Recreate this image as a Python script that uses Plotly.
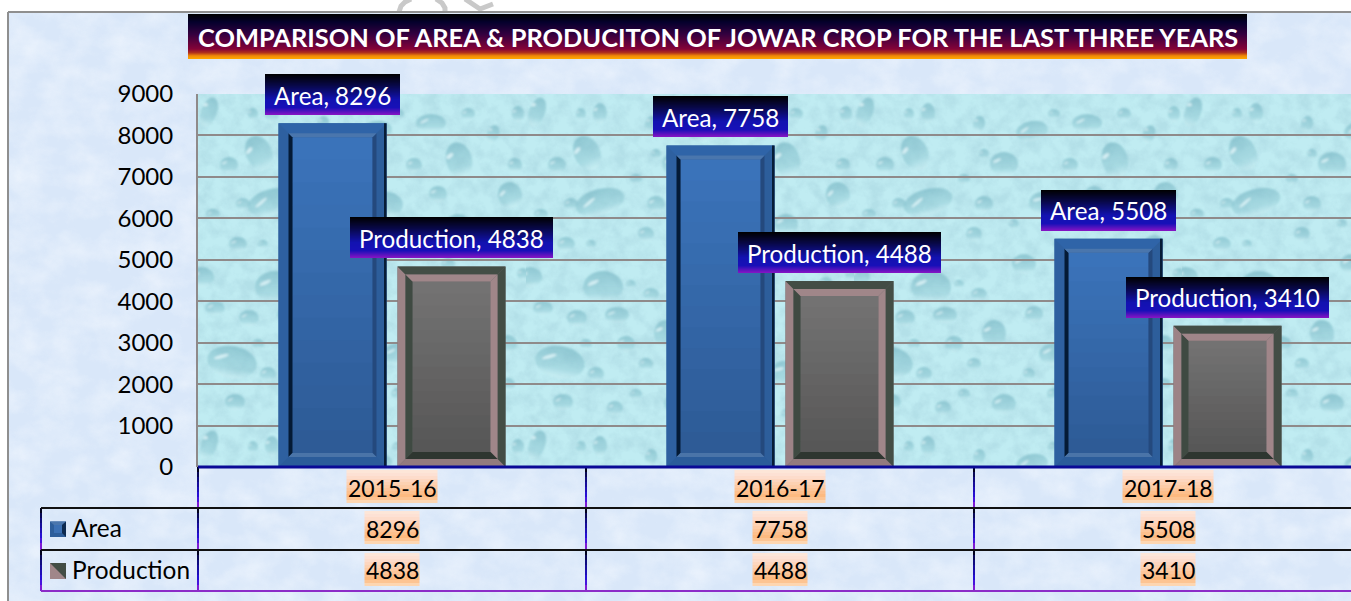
import base64
import plotly.graph_objects as go

# ---------- data ----------
categories = ["2015-16", "2016-17", "2017-18"]
area = [8296, 7758, 5508]
production = [4838, 4488, 3410]
y_ticks = [0, 1000, 2000, 3000, 4000, 5000, 6000, 7000, 8000, 9000]
title_text = "COMPARISON OF AREA & PRODUCITON OF JOWAR CROP FOR THE LAST THREE YEARS"

# ---------- geometry (pixels) ----------
W, H = 1351, 601
L, R_EDGE, T, B = 198, 1351, 94, 467
CAT_W = 388
Y_MAX = 9000
FONT = "Lato"
PW, PH = R_EDGE - L, B - T
BAR_W = 108 / CAT_W
OFF_A = -113.5 / CAT_W
OFF_P = 5.5 / CAT_W
DX = 1 / CAT_W
DY = Y_MAX / PH


def xp(px):
    return (px - L) / PW


def yp(py):
    return (B - py) / PH


def hex2rgb(h):
    return tuple(int(h[i:i + 2], 16) for i in (1, 3, 5))


def ramp(stops, t):
    for (t0, c0), (t1, c1) in zip(stops, stops[1:]):
        if t <= t1:
            f = 0 if t1 == t0 else (t - t0) / (t1 - t0)
            a, b = hex2rgb(c0), hex2rgb(c1)
            return "rgb(%d,%d,%d)" % tuple(round(a[i] + (b[i] - a[i]) * f) for i in range(3))
    return stops[-1][1]


shapes = []


def gradient_box(x0, y0, x1, y1, stops, step=1, layer="above"):
    """Vertical gradient band in whole page pixels."""
    y0, y1 = round(y0), round(y1)
    n = max(1, (y1 - y0) // step)
    for i in range(n):
        a = y0 + step * i
        b = y1 if i == n - 1 else a + step
        shapes.append(dict(type="rect", xref="paper", yref="paper", layer=layer,
                           x0=xp(x0), x1=xp(x1), y0=yp(a), y1=yp(b),
                           line=dict(width=0), fillcolor=ramp(stops, (i + .5) / n)))


def poly(points, color, layer="above"):
    d = "M " + " L ".join(f"{x:.5f},{y:.2f}" for x, y in points) + " Z"
    shapes.append(dict(type="path", xref="x", yref="y", layer=layer, path=d,
                       line=dict(width=0), fillcolor=color))


def bevel(x0, value, a, b, cols):
    """Four mitred strips between inset a and inset b (pixels)."""
    x1 = x0 + BAR_W
    ax, bx, ay, by = a * DX, b * DX, a * DY, b * DY
    lft, rgt, top, bot = cols
    poly([(x0 + ax, ay), (x0 + bx, by), (x0 + bx, value - by), (x0 + ax, value - ay)], lft)
    poly([(x1 - ax, ay), (x1 - bx, by), (x1 - bx, value - by), (x1 - ax, value - ay)], rgt)
    poly([(x0 + ax, value - ay), (x0 + bx, value - by), (x1 - bx, value - by), (x1 - ax, value - ay)], top)
    poly([(x0 + ax, ay), (x0 + bx, by), (x1 - bx, by), (x1 - ax, ay)], bot)


def bar_face(x0, value, inset, c_top, c_bot, n=14):
    x1 = x0 + BAR_W
    lo, hi = inset * DY, value - inset * DY
    for i in range(n):
        v1 = hi - (hi - lo) * i / n
        v0 = hi - (hi - lo) * (i + 1) / n
        v0s = v0 - (20 if i < n - 1 else 0)
        poly([(x0 + inset * DX, v0s), (x1 - inset * DX, v0s),
              (x1 - inset * DX, v1), (x0 + inset * DX, v1)],
             ramp([(0, c_top), (1, c_bot)], (i + .5) / n))


# ---------- bar bevels, derived from the values ----------
for i, v in enumerate(area):
    x0 = i + OFF_A
    bar_face(x0, v, 14, "#3b74bb", "#2d5a95")
    bevel(x0, v, 0, 10, ("#2e60a0", "#2d5e9b", "#2f64a8", "#2b5c9a"))
    bevel(x0, v, 10, 14, ("#041a35", "#24497d", "#4a76ad", "#4a74a8"))
    poly([(x0 + BAR_W - 2.5 * DX, 0), (x0 + BAR_W, 0), (x0 + BAR_W, v), (x0 + BAR_W - 2.5 * DX, v)], "#071c36")

for i, v in enumerate(production):
    x0 = i + OFF_P
    bar_face(x0, v, 15, "#747373", "#565656")
    bevel(x0, v, 0, 8, ("#9c8386", "#434d45", "#434d45", "#937b7e"))
    bevel(x0, v, 8, 15, ("#3f4a42", "#a08689", "#a08689", "#2e3630"))

# ---------- data label boxes ----------
LABEL_STOPS = [(0, "#000000"), (.28, "#080848"), (.62, "#1212b0"), (.82, "#1810b8"), (1, "#8a14c4")]
annotations = []
for name, vals, off, bw in (("Area", area, OFF_A, 135), ("Production", production, OFF_P, 203)):
    for i, v in enumerate(vals):
        cx = L + (i + off + BAR_W / 2 + .5) * CAT_W
        top = B - v / Y_MAX * PH
        gradient_box(cx - bw / 2, top - 49, cx + bw / 2, top - 8, LABEL_STOPS)
        annotations.append(dict(x=i + off + BAR_W / 2, y=v, xref="x", yref="y", yshift=28,
                                yanchor="middle", text=f"{name}, {v}", showarrow=False, align="center",
                                font=dict(family=FONT, size=24.2, color="white")))

# ---------- title ----------
gradient_box(188, 14, 1247, 59,
             [(0, "#000000"), (.18, "#04002c"), (.45, "#34003f"), (.78, "#850338"),
              (.86, "#b0301c"), (.93, "#f08a08"), (1, "#ffa800")])
annotations.append(dict(x=xp(717.5), y=yp(36.5), xref="paper", yref="paper", text=title_text,
                        xanchor="center", yanchor="middle", showarrow=False,
                        font=dict(family=FONT, size=25.4, color="white", weight=700)))

# ---------- data table ----------
ROWS = [467, 508, 550, 591]
COLS = [L + CAT_W * k for k in range(3)]
TEXT_STOPS = [(0, "#fde9da"), (.18, "#fddfd2"), (.8, "#fdb87c"), (1, "#fddfc0")]
V_STOPS = [(0, "#000000"), (.25, "#0a0a70"), (.75, "#2a10e0"), (1, "#9a20d0")]


def table_text(x, y, text):
    annotations.append(dict(x=x, y=yp(y), xref="x", yref="paper", text=text, showarrow=False,
                            xanchor="center", yanchor="middle",
                            font=dict(family=FONT, size=23, color="black")))


for i, cat in enumerate(categories):
    cx = L + (i + .5) * CAT_W
    gradient_box(cx - 45.5, 470, cx + 45.5, 503, TEXT_STOPS, step=3, layer="below")
    table_text(i, 487.5, cat)
    for val, ya, yt in ((area[i], 511, 528.5), (production[i], 553, 570)):
        gradient_box(cx - 27.5, ya, cx + 27.5, ya + 33, TEXT_STOPS, step=3, layer="below")
        table_text(i, yt, str(val))

for x_line, first in ((41, 1), (COLS[0], 0), (COLS[1], 0), (COLS[2], 0)):
    for r in range(first, 3):
        gradient_box(x_line - 1, ROWS[r], x_line + 1, ROWS[r + 1], V_STOPS, step=5, layer="below")

for y_line, col, lw in ((508, "#111111", 2), (550, "#111111", 2), (591, "#8c2cc8", 2)):
    shapes.append(dict(type="line", xref="paper", yref="paper", layer="below",
                       x0=xp(41), x1=xp(W), y0=yp(y_line), y1=yp(y_line), line=dict(color=col, width=lw)))
shapes.append(dict(type="line", xref="paper", yref="paper", layer="above",
                   x0=0, x1=1, y0=0, y1=0, line=dict(color="#0a0a96", width=3)))

for label, y in (("Area", 527.5), ("Production", 569.5)):
    annotations.append(dict(x=xp(70), y=yp(y), xref="paper", yref="paper", text=label,
                            xanchor="left", yanchor="middle", showarrow=False,
                            font=dict(family=FONT, size=24.4, color="black")))


def px_path(points, close=True):
    d = "M " + " L ".join(f"{xp(x):.5f},{yp(y):.5f}" for x, y in points)
    return d + (" Z" if close else "")


def px_poly(points, color):
    shapes.append(dict(type="path", xref="paper", yref="paper", layer="below", path=px_path(points),
                       line=dict(width=0), fillcolor=color))


# legend keys
px_poly([(50, 521.5), (66, 521.5), (66, 537), (50, 537)], "#2d5e9b")
px_poly([(50, 521.5), (66, 521.5), (62, 525), (54, 525)], "#4a76ad")
px_poly([(62, 525), (66, 521.5), (66, 537), (62, 533)], "#0d2a50")
px_poly([(54, 525), (62, 525), (62, 533), (54, 533)], "#3b70b4")
px_poly([(50, 563), (66, 563), (66, 579), (50, 579)], "#434d45")
px_poly([(50, 563), (66, 579), (50, 579)], "#a08689")

# watermark fragments above the panel
for pts in ([(399, 12), (401, 6), (405, 2), (411, -1)],
            [(436, -1), (442, 3), (445, 8), (445, 12)],
            [(465, -1), (480, 9), (493, 4)]):
    shapes.append(dict(type="path", xref="paper", yref="paper", layer="below",
                       path=px_path(pts, close=False), line=dict(color="#c9c9c9", width=5)))

# ---------- picture fills (decorative textures only) ----------
DROPS = [(74, 108, 25, 13, -15), (77, 193, 20, 16, 0), (34, 268, 25, 16, 10), (61, 59, 13, 18, -25),
         (312, 101, 12, 13, -20), (4, 183, 12, 10, 0), (91, 221, 12, 8, 0), (51, 224, 10, 8, 0),
         (17, 214, 10, 7, 0), (37, 308, 10, 8, 0), (89, 314, 8, 7, 0), (11, 18, 8, 15, 20),
         (74, 19, 7, 10, 0), (31, 71, 9, 8, 0), (317, 71, 7, 7, 0), (178, 37, 16, 10, -10),
         (233, 29, 15, 9, 0), (261, 66, 13, 18, -15), (216, 71, 8, 7, 0), (150, 70, 14, 12, 0),
         (190, 110, 15, 12, 10), (260, 130, 12, 10, 0), (300, 150, 10, 9, 0), (170, 170, 12, 10, 0),
         (220, 190, 16, 12, -10), (280, 210, 12, 10, 0), (140, 240, 12, 14, 0), (200, 260, 15, 11, 0),
         (260, 280, 16, 13, 10), (310, 250, 9, 9, 0), (150, 310, 12, 10, 0), (230, 320, 14, 10, 0),
         (290, 320, 10, 8, 0), (120, 140, 8, 7, 0), (40, 150, 9, 7, 0), (125, 30, 6, 8, 15), (110, 85, 6, 5, 0),
         (120, 270, 7, 6, 0), (295, 40, 6, 9, 20), (205, 150, 6, 5, 0), (325, 180, 6, 6, 0), (105, 190, 5, 4, 0),
         (240, 240, 6, 5, 0), (160, 130, 5, 5, 0), (15, 120, 7, 5, 0), (65, 150, 5, 4, 0),
         (130, 110, 9, 8, 0), (45, 110, 7, 6, 0), (100, 250, 9, 8, 0), (70, 280, 8, 7, 0), (125, 200, 8, 6, 0),
         (240, 100, 9, 8, 0), (300, 190, 7, 7, 0), (180, 220, 9, 8, 0), (250, 170, 7, 6, 0), (200, 300, 7, 6, 0),
         (130, 60, 5, 5, 0), (200, 20, 6, 5, 0), (270, 20, 7, 6, 0), (320, 20, 6, 8, 0), (175, 280, 6, 6, 0),
         (310, 290, 7, 6, 0), (55, 20, 5, 6, 0), (60, 250, 6, 5, 0), (110, 300, 6, 5, 0), (260, 320, 5, 5, 0)]
drops_svg = ""
for x, y, rx, ry, rot in DROPS:
    drops_svg += (f'<g transform="translate({x} {y}) rotate({rot})">'
                  f'<ellipse rx="{rx}" ry="{ry}" fill="url(#d)"/>'
                  f'<ellipse cx="{-rx * .35:.1f}" cy="{-ry * .5:.1f}" rx="{rx * .3:.1f}" ry="{ry * .1:.1f}" '
                  f'fill="#eefcff" opacity=".7" transform="rotate(-25)"/></g>')
plot_svg = f'''<svg xmlns="http://www.w3.org/2000/svg" width="{PW}" height="{PH}" viewBox="0 0 {PW} {PH}">
<defs><linearGradient id="d" x1="0" y1="0" x2="0" y2="1"><stop offset="0" stop-color="#6fb0be" stop-opacity=".6"/>
<stop offset=".7" stop-color="#8ac5d0" stop-opacity=".45"/><stop offset="1" stop-color="#d8f5f8" stop-opacity=".4"/></linearGradient>
<filter id="b"><feGaussianBlur stdDeviation="1"/></filter>
<filter id="n" x="0" y="0" width="100%" height="100%"><feTurbulence type="fractalNoise" baseFrequency=".07" numOctaves="4" seed="7"/>
<feColorMatrix values="0 0 0 0 .42  0 0 0 0 .70  0 0 0 0 .77  2.4 0 0 0 -.85"/></filter>
<pattern id="t" patternUnits="userSpaceOnUse" width="328" height="333"><g filter="url(#b)">{drops_svg}</g></pattern></defs>
<rect width="100%" height="100%" fill="#c0ecf2"/><rect width="100%" height="100%" filter="url(#n)" opacity=".65"/>
<rect width="100%" height="100%" fill="url(#t)"/></svg>'''
PANEL_W, PANEL_H = W - 8, H - 12
panel_svg = f'''<svg xmlns="http://www.w3.org/2000/svg" width="{PANEL_W}" height="{PANEL_H}" viewBox="0 0 {PANEL_W} {PANEL_H}">
<defs><filter id="n" x="0" y="0" width="100%" height="100%"><feTurbulence type="fractalNoise" baseFrequency=".03 .04" numOctaves="5" seed="3"/>
<feColorMatrix values="0 0 0 0 .93  0 0 0 0 .96  0 0 0 0 1  1.6 0 0 0 -.55"/></filter></defs>
<rect width="100%" height="100%" fill="#d9e7f9"/><rect width="100%" height="100%" filter="url(#n)" opacity=".6"/></svg>'''


def uri(svg):
    return "data:image/svg+xml;base64," + base64.b64encode(svg.encode()).decode()


images = [
    dict(source=uri(panel_svg), xref="paper", yref="paper", x=xp(8), y=yp(12), sizex=PANEL_W / PW, sizey=PANEL_H / PH,
         xanchor="left", yanchor="top", sizing="stretch", layer="below"),
    dict(source=uri(plot_svg), xref="paper", yref="paper", x=0, y=1, sizex=1, sizey=1,
         xanchor="left", yanchor="top", sizing="stretch", layer="below"),
]
# panel border
for x0, y0, x1, y1 in ((8, 12, W, 12), (8, 12, 8, H)):
    shapes.append(dict(type="line", xref="paper", yref="paper", layer="below",
                       x0=xp(x0), x1=xp(x1), y0=yp(y0), y1=yp(y1), line=dict(color="#8f8f8f", width=2)))

# ---------- figure ----------
fig = go.Figure()
xs = list(range(len(categories)))
fig.add_trace(go.Bar(name="Area", x=xs, y=area, width=BAR_W, offset=OFF_A, marker=dict(color="#2e60a0", line_width=0),
                     customdata=categories, hovertemplate="%{customdata}<br>Area: %{y}<extra></extra>"))
fig.add_trace(go.Bar(name="Production", x=xs, y=production, width=BAR_W, offset=OFF_P,
                     marker=dict(color="#666666", line_width=0),
                     customdata=categories, hovertemplate="%{customdata}<br>Production: %{y}<extra></extra>"))
fig.update_layout(
    width=W, height=H, autosize=False, barmode="overlay", showlegend=False,
    paper_bgcolor="white", plot_bgcolor="#c0ecf2",
    margin=dict(l=L, r=W - R_EDGE, t=T, b=H - B, pad=0),
    font=dict(family=FONT, color="black"),
    xaxis=dict(range=[-.5, -.5 + PW / CAT_W], showticklabels=False, showgrid=False, zeroline=False, ticks="", fixedrange=True),
    yaxis=dict(range=[0, Y_MAX], tickmode="array", tickvals=y_ticks, ticktext=[str(t) for t in y_ticks],
               showgrid=True, gridcolor="#8f8a8a", gridwidth=2, zeroline=False, showline=True,
               linecolor="#8f8a8a", linewidth=2, ticks="", ticklabelstandoff=18,
               tickfont=dict(family=FONT, size=24, color="black"), fixedrange=True),
    shapes=shapes, annotations=annotations, images=images,
)
fig.write_html("out.html", config=dict(displayModeBar=False),
               post_script="document.body.style.margin='0';document.documentElement.style.overflow='hidden';")
